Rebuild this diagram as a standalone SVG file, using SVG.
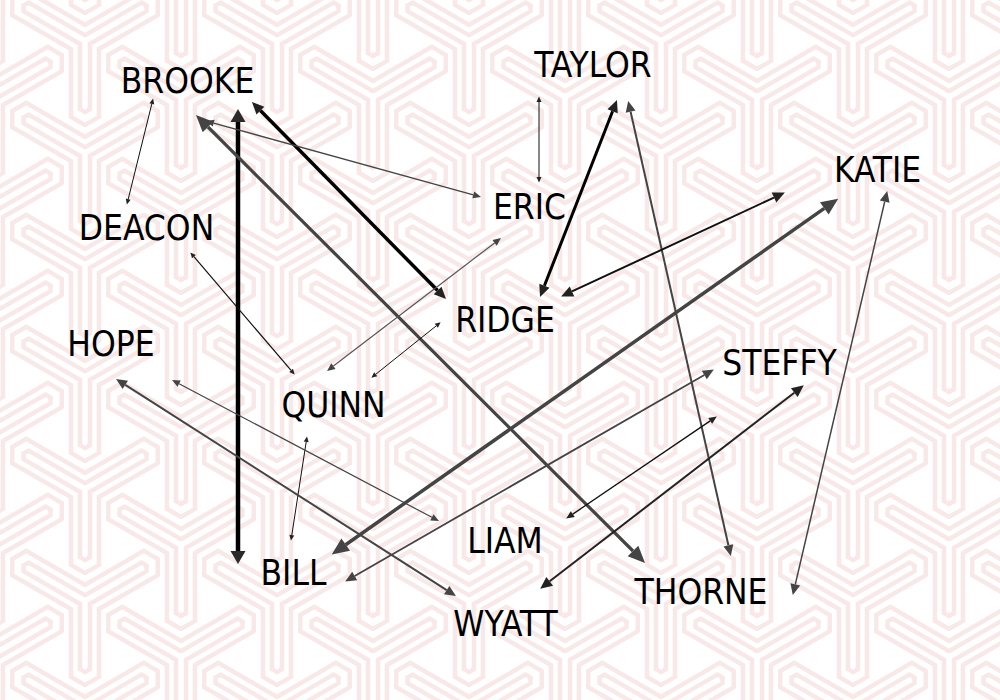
<svg xmlns="http://www.w3.org/2000/svg" xmlns:xlink="http://www.w3.org/1999/xlink" width="1000" height="700" viewBox="0 0 1000 700">
<style>
.lbl{font-family:"DejaVu Sans Condensed","DejaVu Sans",sans-serif;font-stretch:condensed;font-size:35px;fill:#000;text-anchor:middle}
.e{fill:none;stroke-linecap:butt}
.k{stroke:#111}
.g{stroke:#444}
.bgp{fill:none;stroke:#f9e8e8;stroke-width:4.5;stroke-linejoin:miter}
</style>
<defs>
<g id="yy">
<polygon class="bgp" points="5,2.89 5,68.11 0,71 -5,68.11 -5,2.89 -61.48,-29.73 -61.49,-35.5 -56.48,-38.39 0,-5.77 56.48,-38.39 61.49,-35.5 61.48,-29.73"/>
<polygon class="bgp" points="14,8.08 14,75.92 0,84 -14,75.92 -14,8.08 -72.75,-25.84 -72.75,-42 -58.75,-50.08 0,-16.17 58.75,-50.08 72.75,-42 72.75,-25.84"/>
</g>
<pattern id="bg" patternUnits="userSpaceOnUse" x="85" y="41" width="192" height="112">
<use xlink:href="#yy" x="0" y="0"/>
<use xlink:href="#yy" x="192" y="0"/>
<use xlink:href="#yy" x="0" y="112"/>
<use xlink:href="#yy" x="192" y="112"/>
<use xlink:href="#yy" x="96" y="56"/>
<use xlink:href="#yy" x="96" y="-56"/>
</pattern>
<marker id="mXLg" markerUnits="userSpaceOnUse" orient="auto-start-reverse" viewBox="0 -10 20 20" refX="0" refY="0" markerWidth="20" markerHeight="20" overflow="visible"><path d="M0,-7.5 L17,0 L0,7.5 z" fill="#444"/></marker>
<marker id="mLk" markerUnits="userSpaceOnUse" orient="auto-start-reverse" viewBox="0 -10 20 20" refX="0" refY="0" markerWidth="20" markerHeight="20" overflow="visible"><path d="M0,-7.5 L13,0 L0,7.5 z" fill="#2a2a2a"/></marker>
<marker id="mMk" markerUnits="userSpaceOnUse" orient="auto-start-reverse" viewBox="0 -10 20 20" refX="0" refY="0" markerWidth="20" markerHeight="20" overflow="visible"><path d="M0,-5.5 L12,0 L0,5.5 z" fill="#222"/></marker>
<marker id="mMg" markerUnits="userSpaceOnUse" orient="auto-start-reverse" viewBox="0 -10 20 20" refX="0" refY="0" markerWidth="20" markerHeight="20" overflow="visible"><path d="M0,-5 L11,0 L0,5 z" fill="#444"/></marker>
<marker id="mSk" markerUnits="userSpaceOnUse" orient="auto-start-reverse" viewBox="0 -10 20 20" refX="0" refY="0" markerWidth="20" markerHeight="20" overflow="visible"><path d="M0,-3.5 L8,0 L0,3.5 z" fill="#222"/></marker>
<marker id="mSg" markerUnits="userSpaceOnUse" orient="auto-start-reverse" viewBox="0 -10 20 20" refX="0" refY="0" markerWidth="20" markerHeight="20" overflow="visible"><path d="M0,-3.5 L8,0 L0,3.5 z" fill="#444"/></marker>
<marker id="mXSk" markerUnits="userSpaceOnUse" orient="auto-start-reverse" viewBox="0 -10 20 20" refX="0" refY="0" markerWidth="20" markerHeight="20" overflow="visible"><path d="M0,-2.5 L5.5,0 L0,2.5 z" fill="#222"/></marker>
</defs>
<rect width="1000" height="700" fill="#ffffff"/>
<rect width="1000" height="700" fill="url(#bg)"/>
<g id="connectors">
<line id="e-brooke-deacon" class="e k" x1="151.8" y1="103.9" x2="128.2" y2="199.2" stroke-width="1" marker-start="url(#mXSk)" marker-end="url(#mXSk)"/>
<line id="e-brooke-bill" class="e" stroke="#000" x1="238" y1="122" x2="238" y2="551" stroke-width="4.5" marker-start="url(#mLk)" marker-end="url(#mLk)"/>
<line id="e-brooke-ridge" class="e" stroke="#000" x1="260.4" y1="110.6" x2="437.6" y2="290.5" stroke-width="3.5" marker-start="url(#mMk)" marker-end="url(#mMk)"/>
<line id="e-eric-brooke" class="e g" x1="473.3" y1="194.9" x2="213.7" y2="123.1" stroke-width="1.3" marker-start="url(#mSg)" marker-end="url(#mSg)"/>
<line id="e-brooke-thorne" class="e g" x1="208" y1="127" x2="633" y2="551" stroke-width="3.2" marker-start="url(#mXLg)" marker-end="url(#mXLg)"/>
<line id="e-eric-taylor" class="e k" x1="539" y1="102" x2="539" y2="177" stroke-width="1" marker-start="url(#mXSk)" marker-end="url(#mXSk)"/>
<line id="e-eric-quinn" class="e" stroke="#555" x1="494.6" y1="242.9" x2="333.4" y2="366.1" stroke-width="1.2" marker-start="url(#mSg)" marker-end="url(#mSg)"/>
<line id="e-ridge-quinn" class="e k" x1="436.3" y1="325.8" x2="375.7" y2="374.3" stroke-width="1" marker-start="url(#mXSk)" marker-end="url(#mXSk)"/>
<line id="e-deacon-quinn" class="e k" x1="193.9" y1="256.6" x2="291.1" y2="370.4" stroke-width="1.2" marker-start="url(#mXSk)" marker-end="url(#mXSk)"/>
<line id="e-quinn-bill" class="e k" x1="306.2" y1="441.9" x2="291.8" y2="535.1" stroke-width="1" marker-start="url(#mXSk)" marker-end="url(#mXSk)"/>
<line id="e-taylor-ridge" class="e" stroke="#000" x1="612.6" y1="111.2" x2="544.4" y2="285.8" stroke-width="3" marker-start="url(#mMk)" marker-end="url(#mMk)"/>
<line id="e-taylor-thorne" class="e g" x1="630.6" y1="111.7" x2="728.4" y2="545.3" stroke-width="2" marker-start="url(#mMg)" marker-end="url(#mMg)"/>
<line id="e-ridge-katie" class="e k" x1="572" y1="291.4" x2="774" y2="197.6" stroke-width="2" marker-start="url(#mMk)" marker-end="url(#mMk)"/>
<line id="e-katie-bill" class="e g" x1="824.3" y1="208.4" x2="345.7" y2="544.7" stroke-width="3.5" marker-start="url(#mXLg)" marker-end="url(#mXLg)"/>
<line id="e-katie-thorne" class="e g" x1="884.7" y1="201.7" x2="795.3" y2="584.3" stroke-width="1.5" marker-start="url(#mMg)" marker-end="url(#mMg)"/>
<line id="e-steffy-bill" class="e g" x1="704.3" y1="375" x2="354.7" y2="576" stroke-width="1.8" marker-start="url(#mMg)" marker-end="url(#mMg)"/>
<line id="e-steffy-liam" class="e k" x1="710.2" y1="420.9" x2="572.8" y2="514.1" stroke-width="1.3" marker-start="url(#mSk)" marker-end="url(#mSk)"/>
<line id="e-steffy-wyatt" class="e" stroke="#222" x1="794.3" y1="392.7" x2="549.7" y2="581.3" stroke-width="2" marker-start="url(#mMk)" marker-end="url(#mMk)"/>
<line id="e-hope-wyatt" class="e g" x1="125.3" y1="384.9" x2="446.7" y2="590.1" stroke-width="2" marker-start="url(#mMg)" marker-end="url(#mMg)"/>
<line id="e-hope-liam" class="e g" x1="179.1" y1="383.7" x2="431.9" y2="517.3" stroke-width="1.2" marker-start="url(#mSg)" marker-end="url(#mSg)"/>
</g>
<g id="node-brooke"><text class="lbl" x="187.5" y="93">BROOKE</text></g>
<g id="node-taylor"><text class="lbl" x="593" y="77">TAYLOR</text></g>
<g id="node-katie"><text class="lbl" x="877.5" y="182">KATIE</text></g>
<g id="node-eric"><text class="lbl" x="529.5" y="219">ERIC</text></g>
<g id="node-deacon"><text class="lbl" x="146.5" y="240">DEACON</text></g>
<g id="node-ridge"><text class="lbl" x="505" y="332">RIDGE</text></g>
<g id="node-hope"><text class="lbl" x="111" y="356">HOPE</text></g>
<g id="node-quinn"><text class="lbl" x="333.5" y="417">QUINN</text></g>
<g id="node-steffy"><text class="lbl" x="779.5" y="375">STEFFY</text></g>
<g id="node-liam"><text class="lbl" x="505" y="553">LIAM</text></g>
<g id="node-bill"><text class="lbl" x="293.5" y="585">BILL</text></g>
<g id="node-wyatt"><text class="lbl" x="505.5" y="636">WYATT</text></g>
<g id="node-thorne"><text class="lbl" x="701" y="604">THORNE</text></g>
</svg>
